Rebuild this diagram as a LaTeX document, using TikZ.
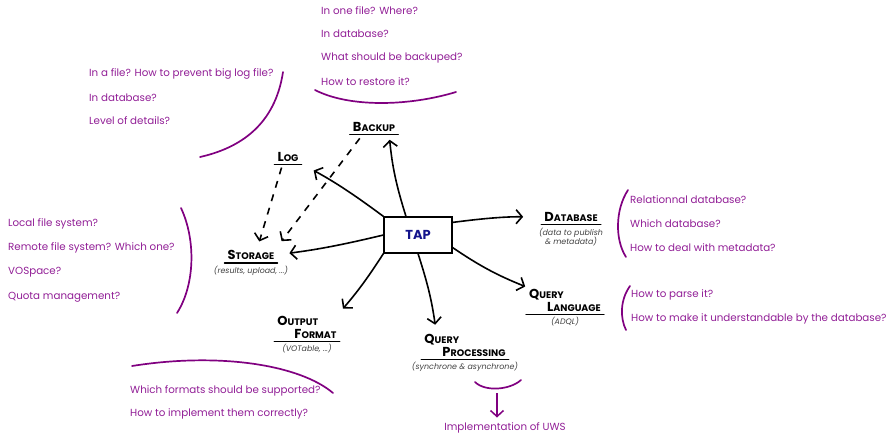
\documentclass[tikz,border=0pt]{standalone}
\usepackage{fontspec}
\setmainfont{Poppins}
\usetikzlibrary{arrows.meta,positioning}

\definecolor{qpurple}{RGB}{128,0,128}
\definecolor{qtext}{RGB}{145,30,150}
\definecolor{tapblue}{RGB}{20,20,140}

% fake small caps for the headings
\newcommand{\hd}[2]{{\fontsize{13}{14}\selectfont #1}{\fontsize{9.5}{12}\selectfont #2}}

\tikzset{
  head/.style={font=\bfseries, inner sep=1pt, align=left},
  sub/.style={font=\itshape\fontsize{7.9}{9.5}\selectfont, text=black!75, align=center, inner sep=1pt},
  note/.style={font=\fontsize{10.3}{12}\selectfont, text=qtext, anchor=west, inner sep=0pt},
  uline/.style={line width=1.3pt, line cap=round},
  link/.style={line width=1.6pt, -{Straight Barb[length=6pt,width=14pt]}},
  dlink/.style={link, dash pattern=on 7pt off 7pt},
  plink/.style={qpurple, line width=1.5pt, -{Straight Barb[length=6pt,width=13pt]}},
  brace/.style={qpurple, line width=1.7pt, line cap=round},
  tapbox/.style={draw, line width=1.2pt, minimum width=68pt, minimum height=36pt,
    font=\bfseries\fontsize{13}{14}\selectfont, text=tapblue}
}

\begin{document}
\begin{tikzpicture}[x=1pt,y=-1pt]
	\useasboundingbox (0,0) rectangle (894,433);

	% centre
	\node[tapbox] (tap) at (418,235) {TAP};

	% headings
	\node[head] (backup) at (374,127) {\hd{B}{ACKUP}};
	\node[head] (log) at (288,157) {\hd{L}{OG}};
	\node[head, label={[sub,label distance=4pt]below:(results, upload, ...)}] (storage) at (251,255) {\hd{S}{TORAGE}};
	\node[head, label={[sub,label distance=4pt]below:(data to publish\\ \& metadata)}] (database) at (571,217) {\hd{D}{ATABASE}};
	\node[head, label={[sub,label distance=4pt]below:(ADQL)}] (qlang) at (565,300) {\hd{Q}{UERY}\\[1pt]\hspace*{18pt}\hd{L}{ANGUAGE}};
	\node[head, label={[sub,label distance=4pt]below:(synchrone \& asynchrone)}] (qproc) at (465,345) {\hd{Q}{UERY}\\[1pt]\hspace*{18pt}\hd{P}{ROCESSING}};
	\node[head, label={[sub,label distance=4pt]below:(VOTable, ...)}] (output) at (307,327) {\hd{O}{UTPUT}\\[1pt]\hspace*{17pt}\hd{F}{ORMAT}};

	\foreach \n in {backup,log,storage,database,qlang,qproc,output}
		\draw[uline] ([shift={(-2pt,-2pt)}]\n.south west) -- ([shift={(2pt,-2pt)}]\n.south east);

	% questions
	\node[note] (bk1) at (321,11) {In one file? Where?};
	\node[note] (bk2) at (321,34) {In database?};
	\node[note] (bk3) at (321,58) {What should be backuped?};
	\node[note] (bk4) at (321,82) {How to restore it?};

	\node[note] (lg1) at (89,74) {In a file? How to prevent big log file?};
	\node[note] (lg2) at (89,98) {In database?};
	\node[note] (lg3) at (89,121) {Level of details?};

	\node[note] (st1) at (8,224) {Local file system?};
	\node[note] (st2) at (8,248) {Remote file system? Which one?};
	\node[note] (st3) at (8,272) {VOSpace?};
	\node[note] (st4) at (8,297) {Quota management?};

	\node[note] (db1) at (630,200) {Relationnal database?};
	\node[note] (db2) at (630,224) {Which database?};
	\node[note] (db3) at (630,248) {How to deal with metadata?};

	\node[note] (ql1) at (631,295) {How to parse it?};
	\node[note] (ql2) at (631,319) {How to make it understandable by the database?};

	\node[note] (of1) at (130,391) {Which formats should be supported?};
	\node[note] (of2) at (130,414) {How to implement them correctly?};

	\node[note, anchor=center] (uws) at (505,428) {Implementation of UWS};

	% purple brackets
	\draw[brace] (315,90) .. controls (350,108) and (410,106) .. (456,92);
	\draw[brace] (283,72) .. controls (275,125) and (240,148) .. (200,157);
	\draw[brace] (181,208) .. controls (196,240) and (195,285) .. (177,313);
	\draw[brace] (628,190) .. controls (615,210) and (615,240) .. (626,257);
	\draw[brace] (630,286) .. controls (620,300) and (620,318) .. (626,330);
	\draw[brace] (132,366) .. controls (220,352) and (300,365) .. (333,393);
	\draw[brace] (475,382) .. controls (485,392) and (510,390) .. (521,380);

	\coordinate (qpa) at (497,393);
	\draw[plink] (qpa) -- ([yshift=5pt]qpa |- uws.north);

	% links
	\draw[link, shorten >=7pt] ([xshift=-12pt]tap.north) to[bend left=6] ([xshift=15pt]backup.south);
	\draw[link, shorten >=16pt] (tap.north west) to[bend right=4] (log.south east);
	\draw[link, shorten >=20pt] (tap.20) to[bend left=4] (database.west);
	\draw[link, shorten >=3pt] (tap.-20) to[bend right=6] (qlang.north west);
	\draw[link, shorten >=8pt] (tap.south) to[bend left=5] ([xshift=13pt]qproc.north west);
	\draw[link, shorten >=8pt] (tap.south west) to[bend left=4] (output.north east);
	\draw[link, shorten >=14pt] (tap.west) to[bend left=3] (storage.east);

	\draw[dlink, shorten <=5pt, shorten >=8pt] ([xshift=-5pt]log.south) -- ([xshift=6pt]storage.north);
	\draw[dlink, shorten <=7pt, shorten >=10pt] ([xshift=-10pt]backup.south) -- (storage.north east);
\end{tikzpicture}
\end{document}
